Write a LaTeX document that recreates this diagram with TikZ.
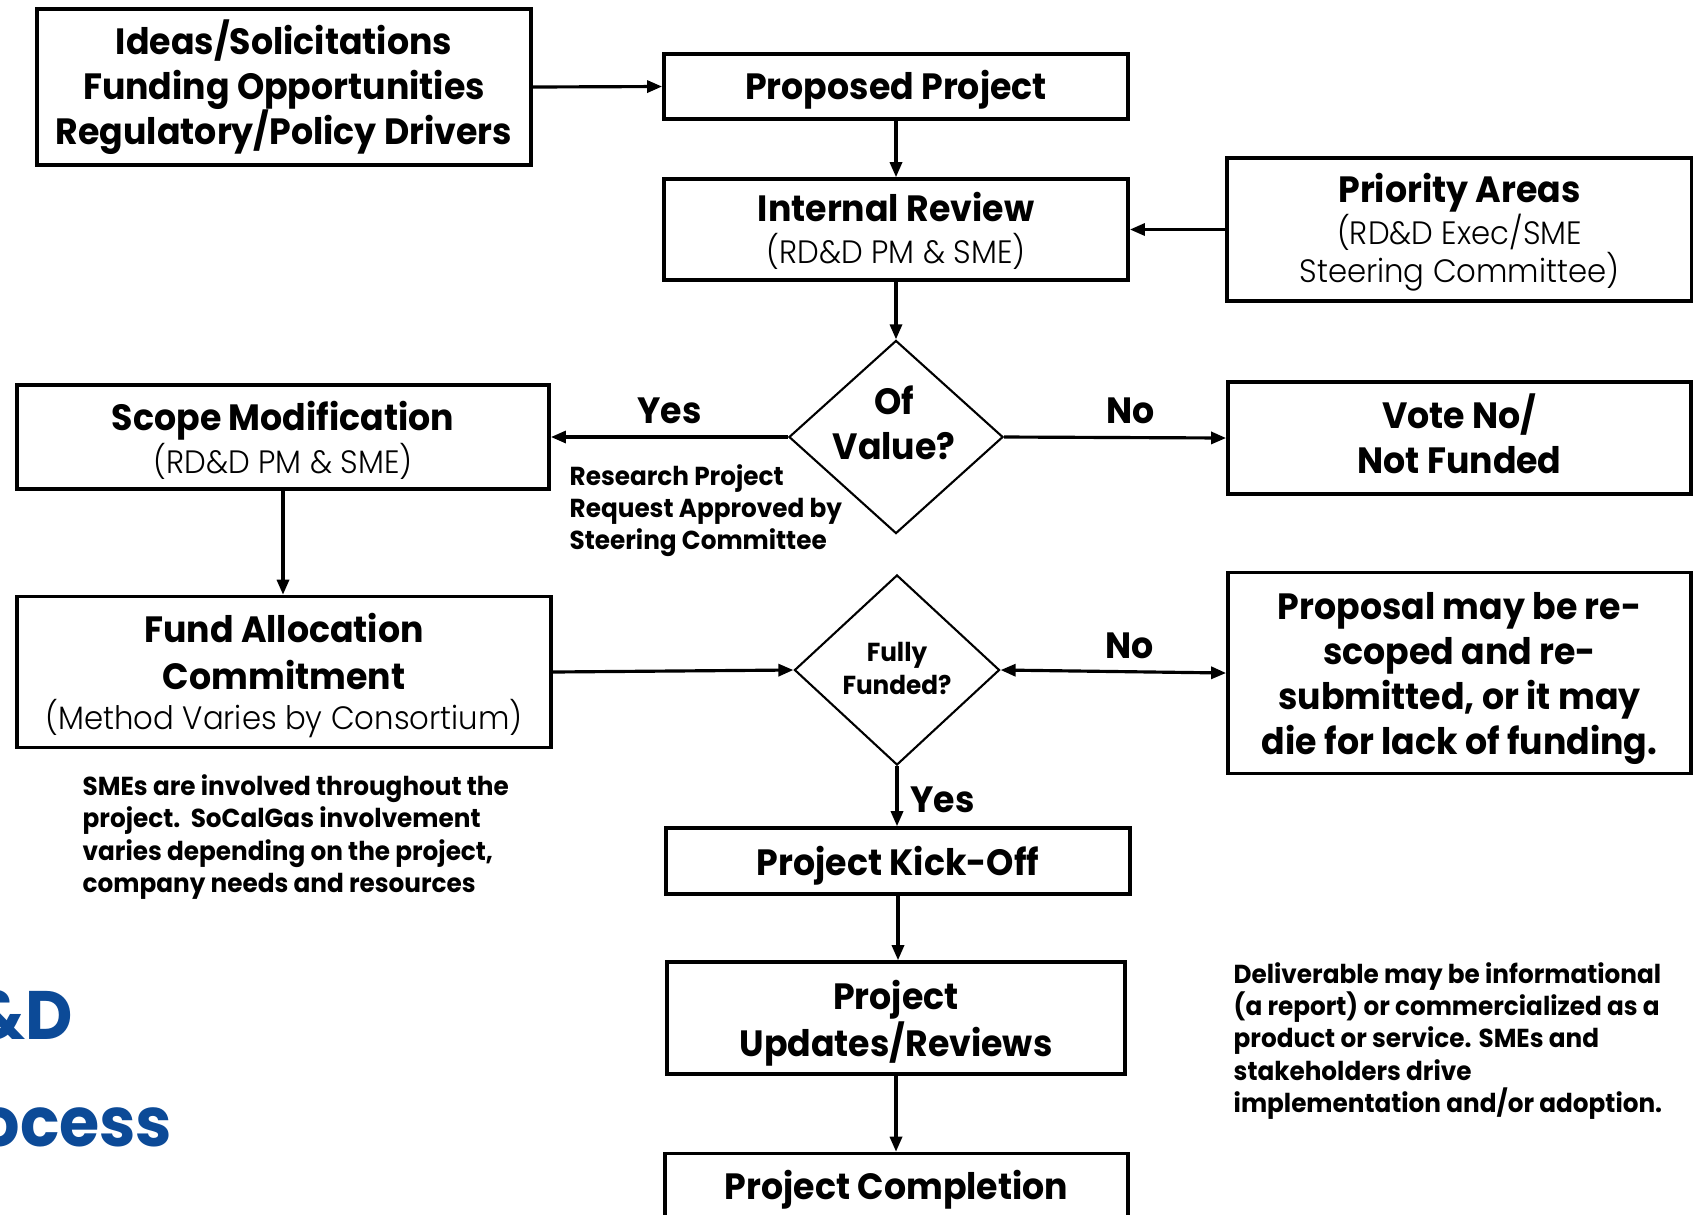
\documentclass[tikz,border=0pt]{standalone}
\usepackage{fontspec}
\setmainfont{Poppins}[FakeStretch=0.95]
\IfFontExistsTF{Poppins Light}
  {\newfontfamily\lightfam{Poppins Light}[FakeStretch=0.95]}
  {\newfontfamily\lightfam{Poppins}[FakeStretch=0.95]}
\usetikzlibrary{shapes.geometric,arrows.meta}

\definecolor{titleblue}{RGB}{12,74,151}
\newcommand{\boxtitle}{\bfseries\fontsize{10.4}{12.8}\selectfont}
\newcommand{\subtfont}{\lightfam\mdseries\fontsize{9.2}{11}\selectfont}
\newcommand{\notefont}{\bfseries\fontsize{7.4}{9.2}\selectfont}
% struts: \lift tops the first line of a box, \botstrut deepens the last
\newcommand{\lift}[1]{\rule{0pt}{#1}}
\newcommand{\botstrut}{\rule[-3pt]{0pt}{3pt}}

\tikzset{
  box/.style={draw, line width=1pt, align=center, inner sep=0pt, font=\boxtitle,
    execute at end node=\botstrut},
  decision/.style={diamond, draw, line width=0.6pt, inner sep=0pt},
  arr/.style={->, line width=0.9pt},
  lbl/.style={font=\boxtitle},
  note/.style={font=\notefont, align=left, inner sep=0pt, anchor=west},
}

\begin{document}
\begin{tikzpicture}[x=0.01cm, y=-0.01cm, >={Triangle[length=1.5mm,width=1.2mm]}]
\useasboundingbox (0,0) rectangle (1693,1214);
\clip (0,0) rectangle (1693,1214);

% main column
\node[box, minimum width=4.64cm, minimum height=0.65cm] (proposed) at (896,86.5) {\lift{10.2pt}Proposed Project};
\node[box, minimum width=4.64cm, minimum height=1.01cm] (review) at (896,229.5)
  {\lift{10.6pt}Internal Review\\[-0.9pt]{\subtfont (RD\&D PM \& SME)}};
\node[decision, minimum width=2.14cm, minimum height=1.93cm] (value) at (896,437) {};
\node[font=\boxtitle, align=center, inner sep=0pt] (valuetxt) at (894,423) {Of\\Value?};
\node[decision, minimum width=2.05cm, minimum height=1.90cm] (funded) at (897,670) {};
\node[font=\notefont, align=center, inner sep=0pt] (fundedtxt) at (897,668) {Fully\\[0.2pt]Funded?};
\node[box, minimum width=4.64cm, minimum height=0.66cm] (kickoff) at (898,861) {\lift{11.4pt}Project Kick-Off};
\node[box, minimum width=4.58cm, minimum height=1.12cm] (updates) at (896,1018)
  {\lift{11.6pt}Project\\[0.7pt]Updates/Reviews};
\node[box, minimum width=4.63cm, minimum height=0.67cm] (completion) at (896.5,1187) {\lift{10.2pt}Project Completion};

% left column
\node[box, minimum width=4.94cm, minimum height=1.56cm] (ideas) at (284,87)
  {Ideas/Solicitations\\Funding Opportunities\\Regulatory/Policy Drivers};
\node[box, minimum width=5.32cm, minimum height=1.04cm] (scope) at (283,437)
  {\lift{11.4pt}Scope Modification\\[-0.6pt]{\subtfont (RD\&D PM \& SME)}};
\node[box, minimum width=5.34cm, minimum height=1.51cm] (fund) at (284,672)
  {\lift{11pt}Fund Allocation\\[0.4pt]Commitment\\[-1.4pt]{\subtfont (Method Varies by Consortium)}};

% right column
\node[box, minimum width=4.65cm, minimum height=1.43cm] (priority) at (1459.5,229.5)
  {\lift{10.2pt}Priority Areas\\[-0.8pt]{\subtfont (RD\&D Exec/SME}\\[-2pt]{\subtfont Steering Committee)}};
\node[box, minimum width=4.63cm, minimum height=1.12cm] (vote) at (1459.5,438)
  {\lift{10.6pt}Vote No/\\Not Funded};
\node[box, minimum width=4.63cm, minimum height=2.01cm] (proposal) at (1459.5,673)
  {\lift{10.8pt}Proposal may be re-\\scoped and re-\\submitted, or it may\\die for lack of funding.};

% notes
\node[note] (approved) at (569,510.5)
  {Research Project\\Request Approved by\\Steering Committee};
\node[note] (smes) at (82,837)
  {SMEs are involved throughout the\\project.\ \ SoCalGas involvement\\varies depending on the project,\\company needs and resources};
\node[note] (deliver) at (1233,1041)
  {Deliverable may be informational\\(a report) or commercialized as a\\product or service. SMEs and\\stakeholders drive\\implementation and/or adoption.};

% title pieces at the left edge
\node[anchor=base east, inner sep=0pt, font=\bfseries\fontsize{19.5}{22}\selectfont, text=titleblue] (titleA) at (74,1039) {\&D};
\node[anchor=base east, inner sep=0pt, font=\bfseries\fontsize{19.5}{22}\selectfont, text=titleblue] (titleB) at (173,1146) {ocess};

% connectors
\draw[arr] (ideas.east) -- (proposed.west);
\draw[arr] (proposed.south) -- (review.north);
\draw[arr] (priority.west) -- (review.east);
\draw[arr] (review.south) -- (value.north);
\draw[arr] (value.west) -- node[lbl, above] (yesA) {Yes} (scope.east);
\draw[arr] (value.east) -- node[lbl, above, pos=0.57] (noA) {No} (vote.west);
\draw[arr] (scope.south) -- (scope.south |- fund.north);
\draw[arr] (fund.east) -- (funded.west);
\draw[arr, <->] (funded.east) -- node[lbl, above, pos=0.57] (noB) {No} (proposal.west);
\draw[arr] (funded.south) -- node[lbl, right, pos=0.56] (yesB) {Yes} (funded.south |- kickoff.north);
\draw[arr] (kickoff.south) -- (kickoff.south |- updates.north);
\draw[arr] (updates.south) -- (updates.south |- completion.north);
\end{tikzpicture}
\end{document}
